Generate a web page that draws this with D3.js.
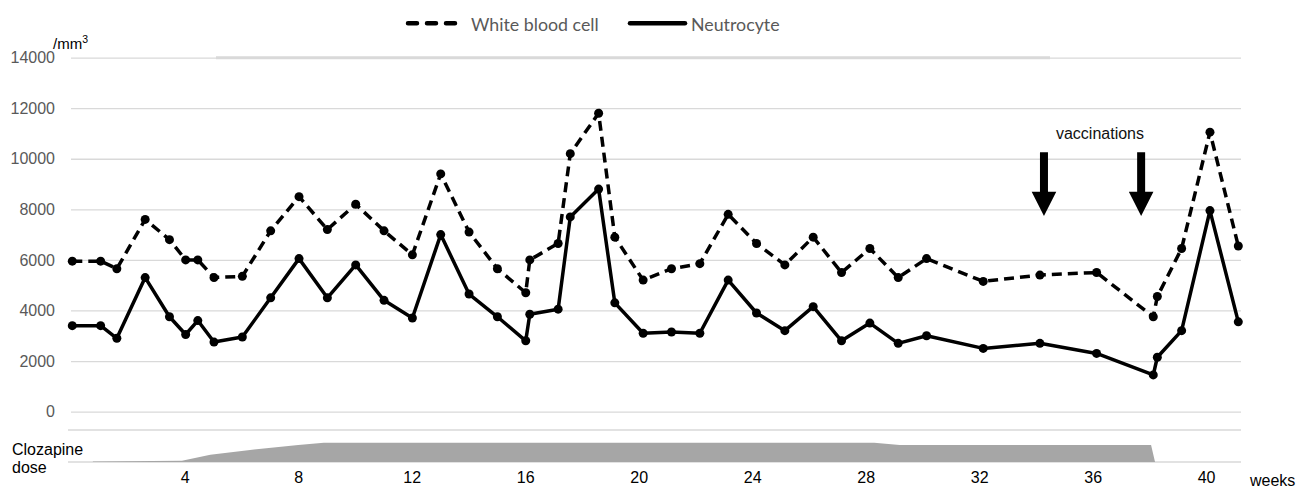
<!DOCTYPE html>
<html>
<head>
<meta charset="utf-8">
<script src="https://cdn.jsdelivr.net/npm/d3@7"></script>
<style>
  body { margin: 0; background: #fff; }
  svg { display: block; }
</style>
</head>
<body>
<div id="chart-area"></div>
<script>
// days since start for each blood sample
let sampleDays = [0, 7, 11, 18, 24, 28, 31, 35, 42, 49, 56, 63, 70, 77, 84, 91, 98, 105, 112, 113, 120,
	123, 130, 134, 141, 148, 155, 162, 169, 176, 183, 190, 197, 204, 211, 225, 239, 253, 267, 268, 274, 281, 288];
let whiteBloodCell = [5950, 5950, 5650, 7600, 6800, 6000, 6000, 5300, 5350, 7150, 8500, 7200, 8200, 7150, 6200, 9400, 7100, 5650, 4700, 6000, 6650,
	10200, 11800, 6900, 5200, 5650, 5850, 7800, 6650, 5800, 6900, 5500, 6450, 5300, 6050, 5150, 5400, 5500, 3750, 4550, 6450, 11050, 6550];
let neutrocyte = [3400, 3400, 2900, 5300, 3750, 3050, 3600, 2750, 2950, 4500, 6050, 4500, 5800, 4400, 3700, 7000, 4650, 3750, 2800, 3850, 4050,
	7700, 8800, 4300, 3100, 3150, 3100, 5200, 3900, 3200, 4150, 2800, 3500, 2700, 3000, 2500, 2700, 2300, 1450, 2150, 3200, 7950, 3550];

let yTicks = [0, 2000, 4000, 6000, 8000, 10000, 12000, 14000];
let weekTicks = [4, 8, 12, 16, 20, 24, 28, 32, 36, 40];
let vaccinationDays = [240, 264];

// clozapine dose panel (weeks, mg)
let doseWeeks = [0.76, 3.9, 4.9, 6.3, 8.0, 8.9, 28.3, 29.2, 38.06, 38.2];
let doseMg = [12.5, 25, 150, 250, 350, 400, 400, 350, 350, 0];

let width = 1308,
	height = 489;
let plotLeft = 71, plotRight = 1241;

let svg = d3.select('#chart-area').append('svg')
	.attr('width', width)
	.attr('height', height);

let xScale = d3.scaleLinear()
	.domain([0, 288])
	.range([72.3, 1238.3]);

let yScale = d3.scaleLinear()
	.domain([0, 14000])
	.range([411.6, 57.6]);

let weekScale = d3.scaleLinear()
	.domain([0, 41.23])
	.range([71.3, 1241]);

let doseScale = d3.scaleLinear()
	.domain([0, 400])
	.range([462, 442.7]);

// gridlines + y labels
let yaxis = d3.axisLeft()
	.scale(yScale)
	.tickValues(yTicks)
	.tickSize(-(plotRight - plotLeft))
	.tickPadding(16)
	.tickFormat(d3.format("d"));

let gy = svg.append('g')
	.attr('class', 'y-axis axis')
	.attr("transform", "translate(" + plotLeft + ",0)")
	.call(yaxis);
gy.select('.domain').remove();
gy.selectAll('line').attr('stroke', '#d9d9d9').attr('stroke-width', 1.3);
gy.selectAll('text')
	.attr('fill', '#595959')
	.style('font-family', 'Liberation Sans, Arial, sans-serif')
	.style('font-size', '16px');

// light bar across the top
svg.append('line')
	.attr('x1', 216).attr('x2', 1050)
	.attr('y1', 57.8).attr('y2', 57.8)
	.attr('stroke', '#d9d9d9')
	.attr('stroke-width', 3);

svg.append('text')
	.attr('x', 53).attr('y', 49)
	.style('font-family', 'Liberation Sans, Arial, sans-serif')
	.style('font-size', '15px')
	.attr('fill', '#000')
	.text('/mm')
	.append('tspan')
	.attr('dy', -6)
	.style('font-size', '10.5px')
	.text('3');

// series
let rows = sampleDays.map((d, i) => ({day: d, wbc: whiteBloodCell[i], neu: neutrocyte[i]}));

let wbcLine = d3.line().x(d => xScale(d.day)).y(d => yScale(d.wbc));
let neuLine = d3.line().x(d => xScale(d.day)).y(d => yScale(d.neu));

svg.append('path')
	.datum(rows)
	.attr('d', wbcLine)
	.attr('fill', 'none')
	.attr('stroke', '#000')
	.attr('stroke-width', 3.5)
	.attr('stroke-dasharray', '10,6');

svg.append('path')
	.datum(rows)
	.attr('d', neuLine)
	.attr('fill', 'none')
	.attr('stroke', '#000')
	.attr('stroke-width', 3.5)
	.attr('stroke-linejoin', 'round');

svg.selectAll('circle.wbc')
	.data(rows)
	.enter()
	.append('circle')
	.attr('class', 'wbc')
	.attr('cx', d => xScale(d.day))
	.attr('cy', d => yScale(d.wbc))
	.attr('r', 4.5)
	.attr('fill', '#000');

svg.selectAll('circle.neu')
	.data(rows)
	.enter()
	.append('circle')
	.attr('class', 'neu')
	.attr('cx', d => xScale(d.day))
	.attr('cy', d => yScale(d.neu))
	.attr('r', 4.5)
	.attr('fill', '#000');

// vaccination arrows
svg.append('text')
	.attr('x', 1100).attr('y', 139)
	.attr('text-anchor', 'middle')
	.style('font-family', 'Liberation Sans, Arial, sans-serif')
	.style('font-size', '16px')
	.attr('fill', '#111')
	.text('vaccinations');

svg.selectAll('path.arrow')
	.data(vaccinationDays)
	.enter()
	.append('path')
	.attr('class', 'arrow')
	.attr('transform', d => "translate(" + xScale(d) + ",0)")
	.attr('d', "M-4,152.3 L4,152.3 L4,191.7 L12.3,191.7 L0,216 L-12.3,191.7 L-4,191.7 Z")
	.attr('fill', '#000');

// legend
let legend = svg.append('g');
legend.append('line')
	.attr('x1', 408).attr('x2', 455)
	.attr('y1', 23.3).attr('y2', 23.3)
	.attr('stroke', '#000')
	.attr('stroke-width', 4.5)
	.attr('stroke-linecap', 'round')
	.attr('stroke-dasharray', '9,10');
legend.append('text')
	.attr('x', 471).attr('y', 30.5)
	.style('font-family', 'Lato, sans-serif')
	.style('font-size', '17.8px')
	.attr('fill', '#595959')
	.text('White blood cell');
legend.append('line')
	.attr('x1', 630).attr('x2', 685)
	.attr('y1', 23.3).attr('y2', 23.3)
	.attr('stroke', '#000')
	.attr('stroke-width', 4.5)
	.attr('stroke-linecap', 'round');
legend.append('text')
	.attr('x', 691).attr('y', 30.5)
	.style('font-family', 'Lato, sans-serif')
	.style('font-size', '17.8px')
	.attr('fill', '#595959')
	.text('Neutrocyte');

// clozapine dose panel
svg.selectAll('line.dose-grid')
	.data([430, 462])
	.enter()
	.append('line')
	.attr('class', 'dose-grid')
	.attr('x1', 68).attr('x2', plotRight)
	.attr('y1', d => d).attr('y2', d => d)
	.attr('stroke', '#d9d9d9')
	.attr('stroke-width', 1.3);

let doseRows = doseWeeks.map((w, i) => ({week: w, mg: doseMg[i]}));
let doseArea = d3.area()
	.x(d => weekScale(d.week))
	.y0(doseScale(0))
	.y1(d => doseScale(d.mg));

svg.append('path')
	.datum(doseRows)
	.attr('d', doseArea)
	.attr('fill', '#a6a6a6');

let xaxis = d3.axisBottom()
	.scale(weekScale)
	.tickValues(weekTicks)
	.tickSize(0)
	.tickPadding(10)
	.tickFormat(d3.format("d"));

let gx = svg.append('g')
	.attr('class', 'x-axis axis')
	.attr("transform", "translate(0,462)")
	.call(xaxis);
gx.select('.domain').remove();
gx.selectAll('text')
	.attr('fill', '#000')
	.style('font-family', 'Liberation Sans, Arial, sans-serif')
	.style('font-size', '16px');

svg.append('text')
	.attr('x', 1250).attr('y', 486)
	.style('font-family', 'Liberation Sans, Arial, sans-serif')
	.style('font-size', '16px')
	.attr('fill', '#000')
	.text('weeks');

svg.append('text')
	.attr('x', 12).attr('y', 455)
	.style('font-family', 'Liberation Sans, Arial, sans-serif')
	.style('font-size', '16px')
	.attr('fill', '#000')
	.text('Clozapine');
svg.append('text')
	.attr('x', 12).attr('y', 473)
	.style('font-family', 'Liberation Sans, Arial, sans-serif')
	.style('font-size', '16px')
	.attr('fill', '#000')
	.text('dose');
</script>
</body>
</html>
